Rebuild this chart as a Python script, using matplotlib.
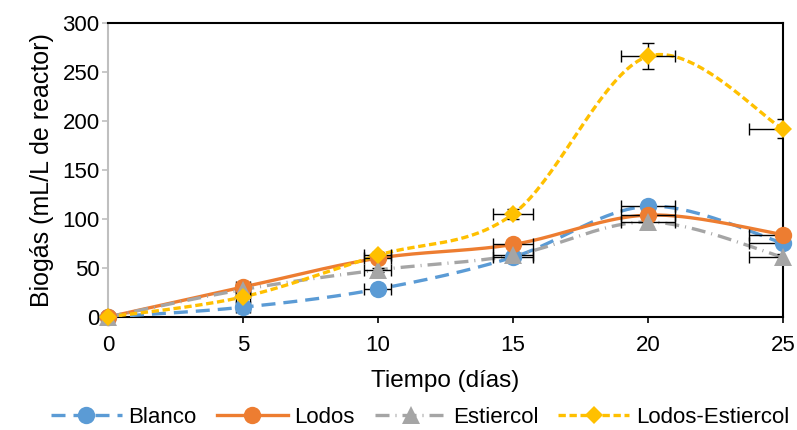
import numpy as np
import matplotlib.pyplot as plt
from matplotlib.lines import Line2D

plt.rcParams['font.family'] = ['Liberation Sans', 'DejaVu Sans']

dias = [0, 5, 10, 15, 20, 25]
blanco = [0, 10, 28.5, 61, 113, 75.5]
lodos = [0, 30.5, 60, 74, 104, 84]
estiercol = [0, 28, 48, 63, 97, 61]
lodos_estiercol = [0, 20.5, 63, 105, 266, 192]

series = [
    ('Blanco', blanco, '#5B9BD5', (0, (4.2, 2.4)), 'o', 12.5),
    ('Lodos', lodos, '#ED7D31', '-', 'o', 12.5),
    ('Estiercol', estiercol, '#A5A5A5', (0, (4.2, 1.8, 0.3, 1.8)), '^', 12.5),
    ('Lodos-Estiercol', lodos_estiercol, '#FFC000', (0, (2.2, 1.1)), 'D', 9.5),
]


def smooth(ax, x, y, n=40):
    # Bezier smoothing computed in display space (tension 1/6)
    pts = ax.transData.transform(np.column_stack([x, y]))
    out = [pts[0]]
    for i in range(len(pts) - 1):
        p0 = pts[max(i - 1, 0)]
        p1 = pts[i]
        p2 = pts[i + 1]
        p3 = pts[min(i + 2, len(pts) - 1)]
        c1 = p1 + (p2 - p0) / 6
        c2 = p2 - (p3 - p1) / 6
        t = np.linspace(0, 1, n)[1:, None]
        seg = ((1 - t) ** 3 * p1 + 3 * (1 - t) ** 2 * t * c1
               + 3 * (1 - t) * t ** 2 * c2 + t ** 3 * p2)
        out.extend(seg)
    out = ax.transData.inverted().transform(np.array(out))
    return out[:, 0], out[:, 1]


fig = plt.figure(figsize=(7.97, 4.30), dpi=100)
ax = fig.add_axes([0.1355, 0.2628, 0.8469, 0.6837])
ax.set_xlim(0, 25)
ax.set_ylim(0, 300)

handles = []
for name, vals, color, ls, mk, ms in series:
    xs, ys = smooth(ax, dias, vals)
    ax.plot(xs, ys, color=color, lw=2.4, ls=ls, zorder=3)
    xe = [0.05 * d for d in dias]
    ye = [0.05 * v for v in vals]
    ax.errorbar(dias, vals, xerr=xe, yerr=ye, fmt='none', ecolor='black',
                elinewidth=1, capsize=4, capthick=1, zorder=3.5)
    ax.plot(dias, vals, ls='none', marker=mk, ms=ms, color=color,
            markeredgewidth=0, zorder=4, clip_on=False)
    handles.append(Line2D([], [], color=color, lw=2.4, ls=ls, marker=mk,
                          ms=ms, markeredgewidth=0))

ax.set_xticks([0, 5, 10, 15, 20, 25])
ax.set_yticks(range(0, 301, 50))
ax.tick_params(axis='both', labelsize=16)
ax.tick_params(axis='y', color='#BFBFBF', length=4, width=1.2, pad=2)
ax.tick_params(axis='x', color='black', length=4, width=1.2, pad=9)
ax.spines['left'].set_color('#BFBFBF')
ax.spines['left'].set_linewidth(1.5)
for s in ['bottom', 'top', 'right']:
    ax.spines[s].set_color('black')
    ax.spines[s].set_linewidth(1.5)

ax.set_xlabel('Tiempo (días)', fontsize=17.5, labelpad=10)
ax.set_ylabel('Biogás (mL/L de reactor)', fontsize=18, labelpad=6)

fig.legend(handles, [s[0] for s in series], loc='center',
           bbox_to_anchor=(0.527, 0.03), ncol=4, frameon=False,
           fontsize=16, handlelength=3.2, handletextpad=0.3,
           columnspacing=0.9)

fig.savefig('out.png', dpi=100)
